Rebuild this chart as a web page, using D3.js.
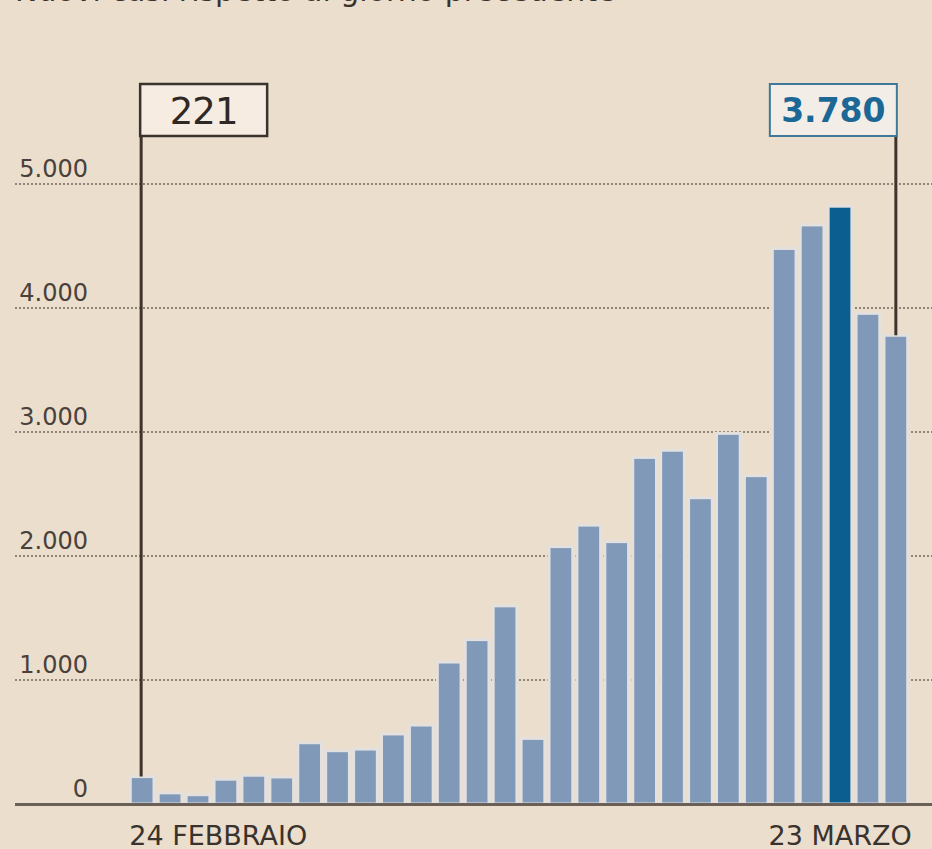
<!DOCTYPE html>
<html>
<head>
<meta charset="utf-8">
<script src="https://cdn.jsdelivr.net/npm/d3@7"></script>
<style>
  html, body { margin: 0; padding: 0; background: #ebdecd; }
  svg { display: block; }
</style>
</head>
<body>
<svg id="chart" width="932" height="849"></svg>
<script>
// ---- data ----
const title = "Nuovi casi rispetto al giorno precedente";
const categories = ["24/2","25/2","26/2","27/2","28/2","29/2","1/3","3/3","4/3","5/3","6/3","7/3","8/3","9/3",
  "10/3","11/3","12/3","13/3","14/3","15/3","16/3","17/3","18/3","19/3","20/3","21/3","22/3","23/3"];
const values = [221, 90, 75, 200, 232, 218, 494, 430, 443, 565, 637, 1145, 1326, 1598,
  529, 2076, 2249, 2116, 2795, 2853, 2470, 2989, 2648, 4480, 4670, 4821, 3957, 3780];
const highlightIndex = 25;
const yTicks = [0, 1000, 2000, 3000, 4000, 5000];
const xLabels = ["24 FEBBRAIO", "23 MARZO"];
const calloutFirst = "221";
const calloutLast = "3.780";

// ---- layout ----
const W = 932, H = 849;
const svg = d3.select("#chart");
svg.append("rect").attr("width", W).attr("height", H).attr("fill", "#ebdecd");

const x = d3.scaleBand().domain(categories).range([125.4, 912.6]).paddingInner(0.15).paddingOuter(0.175);
const y = d3.scaleLinear().domain([0, 5000]).range([804, 184]);
const fmt = d => d === 0 ? "0" : d3.format(",")(d).replace(/,/g, ".");

// title (cropped at top, as in the reference)
svg.append("text").attr("x", 15).attr("y", 1)
  .attr("font-family", "DejaVu Sans, sans-serif").attr("font-size", 30)
  .attr("fill", "#3a322c").text(title);

// grid lines
svg.append("g").selectAll("line").data(yTicks.filter(d => d > 0)).join("line")
  .attr("x1", 15).attr("x2", W)
  .attr("y1", d => y(d)).attr("y2", d => y(d))
  .attr("stroke", "#8f847a").attr("stroke-width", 2)
  .attr("stroke-dasharray", "2,2");

// y tick labels
svg.append("g").selectAll("text").data(yTicks).join("text")
  .attr("x", 88).attr("y", d => y(d) - 7)
  .attr("text-anchor", "end")
  .attr("font-family", "DejaVu Sans, sans-serif").attr("font-size", 24)
  .attr("fill", "#4a413a").text(fmt);

// bars
const bw = x.bandwidth();
svg.append("g").selectAll("rect").data(values).join("rect")
  .attr("x", (d, i) => x(categories[i]))
  .attr("width", bw)
  .attr("y", d => y(d))
  .attr("height", d => y(0) - y(d))
  .attr("fill", (d, i) => i === highlightIndex ? "#0a5f90" : "#8099b9")
  .attr("stroke", "#e3e0de").attr("stroke-width", 3);

// baseline
svg.append("line").attr("x1", 15).attr("x2", W)
  .attr("y1", y(0) + 0.5).attr("y2", y(0) + 0.5)
  .attr("stroke", "#6b6058").attr("stroke-width", 3);

// x labels
svg.append("text").attr("x", x(categories[0]) - 1).attr("y", 845)
  .attr("font-family", "DejaVu Sans, sans-serif").attr("font-size", 27)
  .attr("fill", "#3a322c").text(xLabels[0]);
svg.append("text").attr("x", x(categories[categories.length - 1]) + bw + 4).attr("y", 845)
  .attr("text-anchor", "end")
  .attr("font-family", "DejaVu Sans, sans-serif").attr("font-size", 27)
  .attr("fill", "#3a322c").text(xLabels[1]);

// callouts
const boxTop = 84, boxH = 52, boxW = 127;
const cx0 = x(categories[0]) + bw / 2;
const cxN = x(categories[categories.length - 1]) + bw / 2;

svg.append("line").attr("x1", cx0 - 1).attr("x2", cx0 - 1)
  .attr("y1", boxTop + boxH).attr("y2", y(values[0]))
  .attr("stroke", "#3e342c").attr("stroke-width", 3);
svg.append("line").attr("x1", cxN).attr("x2", cxN)
  .attr("y1", boxTop + boxH).attr("y2", y(values[values.length - 1]))
  .attr("stroke", "#3e342c").attr("stroke-width", 3);

svg.append("rect").attr("x", cx0 - 2).attr("y", boxTop).attr("width", boxW).attr("height", boxH)
  .attr("fill", "#f6ece2").attr("stroke", "#3a322c").attr("stroke-width", 2.5);
svg.append("text").attr("x", cx0 - 2 + boxW / 2).attr("y", boxTop + 40)
  .attr("text-anchor", "middle")
  .attr("font-family", "DejaVu Sans, sans-serif").attr("font-size", 37)
  .attr("letter-spacing", -1)
  .attr("fill", "#2f2824").text(calloutFirst);

svg.append("rect").attr("x", cxN + 1 - boxW).attr("y", boxTop).attr("width", boxW).attr("height", boxH)
  .attr("fill", "#f2ede6").attr("stroke", "#3f7898").attr("stroke-width", 2);
svg.append("text").attr("x", cxN + 1 - boxW / 2).attr("y", boxTop + 38)
  .attr("text-anchor", "middle")
  .attr("font-family", "DejaVu Sans, sans-serif").attr("font-size", 33).attr("font-weight", "bold")
  .attr("fill", "#1b6896").text(calloutLast);
</script>
</body>
</html>
